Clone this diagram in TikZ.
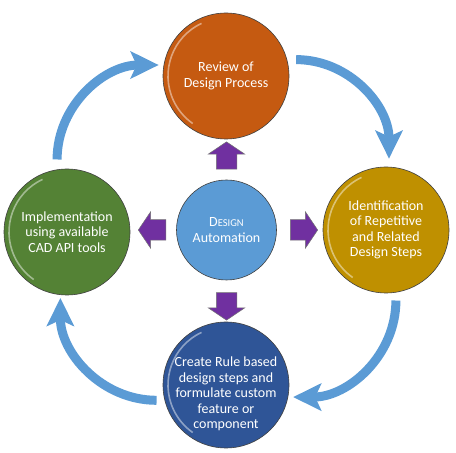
\documentclass[tikz,border=0pt]{standalone}
\usepackage{fontspec}
\setmainfont{Carlito}
\usetikzlibrary{positioning,shapes.arrows,arrows.meta}
\definecolor{revieworange}{RGB}{197,90,17}
\definecolor{identgold}{RGB}{191,144,0}
\definecolor{implgreen}{RGB}{84,130,53}
\definecolor{autoblue}{RGB}{91,155,213}
\definecolor{createblue}{RGB}{47,85,151}
\definecolor{cycblue}{RGB}{91,155,213}
\definecolor{blkpurple}{RGB}{112,48,160}
\begin{document}
\begin{tikzpicture}[x=1pt, y=1pt,
  ball/.style={circle, draw=black!75, line width=0.6pt, fill=#1, minimum size=126pt, inner sep=0pt,
    text=white, align=center, font=\fontsize{14}{15.5}\selectfont,
    path picture={\draw[white, opacity=0.45, line width=1.6pt] ([shift={(115:58pt)}]path picture bounding box.center) arc[start angle=115, end angle=235, radius=58pt];}},
  lbl/.style={text=white, align=center, font=\fontsize{14}{15.5}\selectfont, inner sep=0pt},
  cyc/.style={draw=cycblue, line width=9pt, -{Stealth[length=28pt, width=27pt, inset=6pt]}},
  blk/.style={single arrow, draw=black!55, line width=0.5pt, fill=blkpurple, minimum height=23pt,
    inner sep=10pt, single arrow head extend=8pt, single arrow tip angle=112, shape border rotate=#1}]
\useasboundingbox (0,0) rectangle (456,453);
% the four steps round the cycle
\node[ball=revieworange] (review) at (226,377) {Review of\\Design Process};
\node[ball=identgold] (ident) at (386,223) {Identification\\of Repetitive\\and Related\\Design Steps};
\node[ball=createblue] (create) at (226,68) {};
\node[lbl] (createlbl) at ([yshift=-9pt]create.center) {Create Rule based\\design steps and\\formulate custom\\feature or\\component};
\node[ball=implgreen] (impl) at (67,221) {Implementation\\using available\\CAD API tools};

% centre
\node[ball=autoblue, minimum size=100pt] (auto) at (226.5,223) {D{\fontsize{10.5}{12}\selectfont ESIGN}\\Automation};
\node[blk=90] (up) at ([yshift=71pt]auto.center) {};
\node[blk=270] (down) at ([yshift=-73pt]auto.center) {};
\node[blk=180] (left) at ([xshift=-71pt]auto.center) {};
\node[blk=0] (right) at ([xshift=74pt]auto.center) {};

\draw[cyc] ([xshift=9pt]review.15) to[out=0, in=90] ([xshift=3pt,yshift=8pt]ident.north);
\draw[cyc] ([yshift=-8pt]ident.-81) to[out=-90, in=0] ([xshift=5pt]create.-11);
\draw[cyc] ([xshift=-8pt]create.194) to[out=180, in=-90] ([yshift=-3pt]impl.264);
\draw[cyc] ([yshift=10pt]impl.99) to[out=90, in=180] ([xshift=-5pt]review.170);
\end{tikzpicture}
\end{document}
